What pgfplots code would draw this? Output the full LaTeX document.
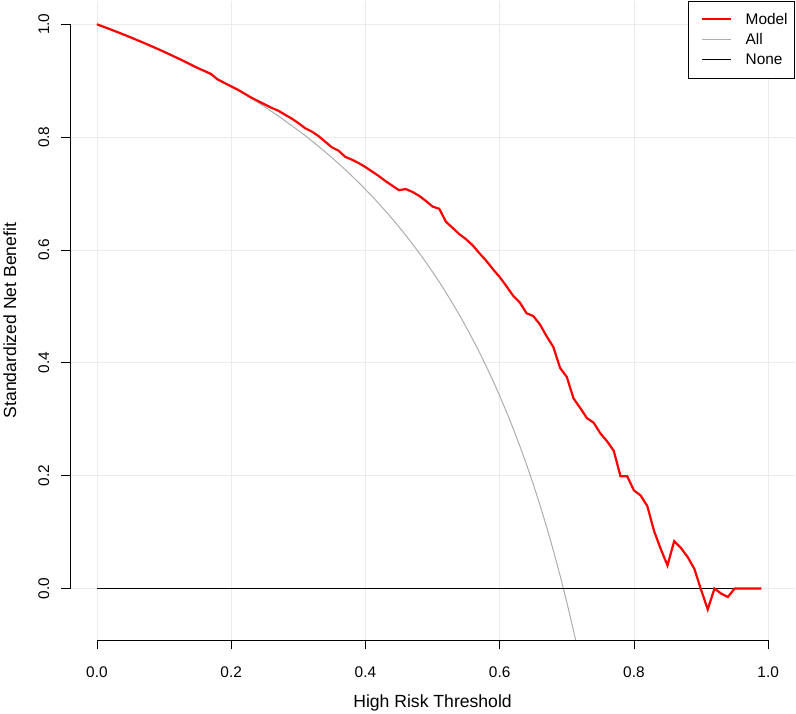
\documentclass[border=0pt]{standalone}
\usepackage{fontspec}
\setmainfont{Liberation Sans}
\usepackage{pgfplots}
\pgfplotsset{compat=1.18}
\definecolor{gridgray}{HTML}{EBEBEB}
\definecolor{allgray}{HTML}{ADADAD}
\definecolor{rred}{HTML}{FF0000}
\begin{document}
\begin{tikzpicture}
\begin{axis}[
  at={(0pt,0pt)}, anchor=south west,
  scale only axis, width=725.2pt, height=640.1pt,
  xmin=-0.04, xmax=1.04, ymin=-0.092, ymax=1.042,
  clip=false,
  axis line style={draw=none},
  xtick={0,0.2,0.4,0.6,0.8,1.0}, ytick={0,0.2,0.4,0.6,0.8,1.0},
  xtick pos=left, ytick pos=left,
  grid=major, grid style={gridgray, line width=0.8pt},
  tick align=outside, major tick length=9pt,
  tick style={black, line width=0.8pt},
  ticklabel style={font=\fontsize{15.4}{18}\selectfont},
  /pgf/number format/.cd, fixed, fixed zerofill, precision=1, assume math mode=true,
  /pgfplots/.cd,
  xticklabel style={anchor=base}, xticklabel shift=28pt,
  yticklabel style={rotate=90, anchor=base}, yticklabel shift=12pt,
  xlabel={High Risk Threshold}, ylabel={Standardized Net Benefit},
  label style={font=\fontsize{17.6}{21}\selectfont},
  xlabel style={at={(axis description cs:0.5,-0.104)}, anchor=base},
  ylabel style={at={(axis description cs:-0.0745,0.5)}, anchor=base},
  legend cell align=left,
  legend image code/.code={\path[draw=none, fill=none] (0pt,-1pt) rectangle (36pt,1pt); \draw[#1] (7pt,0pt) -- (36pt,0pt);},
  legend style={at={(axis description cs:1,1)}, anchor=north east, draw=black, line width=0.8pt,
    font=\fontsize{15.4}{18}\selectfont, inner xsep=7pt, inner ysep=12pt,
    nodes={inner sep=0pt}, column sep=13.7pt, row sep=7.8pt},
]
\addlegendimage{rred, line width=2.2pt}
\addlegendentry{Model}
\addlegendimage{allgray, line width=1pt}
\addlegendentry{All}
\addlegendimage{black, line width=1pt}
\addlegendentry{None}

\addplot[allgray, line width=1pt, forget plot] coordinates {
(0,1.0) (0.02,0.99104) (0.05,0.97690) (0.07,0.96697) (0.10,0.95124) (0.12,0.94016)
(0.15,0.92256) (0.17,0.91012) (0.20,0.89029) (0.22,0.87622) (0.25,0.85372) (0.27,0.83768)
(0.30,0.81192) (0.31,0.80284) (0.32,0.79348) (0.33,0.78385) (0.34,0.77392) (0.35,0.76369)
(0.36,0.75315) (0.37,0.74226) (0.38,0.73103) (0.39,0.71942) (0.40,0.70743) (0.41,0.69503)
(0.42,0.68221) (0.43,0.66894) (0.44,0.65519) (0.45,0.64094) (0.46,0.62617) (0.47,0.61083)
(0.48,0.59491) (0.49,0.57836) (0.50,0.56115) (0.51,0.54323) (0.52,0.52458) (0.53,0.50513)
(0.54,0.48483) (0.55,0.46362) (0.56,0.44146) (0.57,0.41826) (0.58,0.39396) (0.59,0.36848)
(0.60,0.34173) (0.61,0.31360) (0.62,0.28398) (0.63,0.25276) (0.64,0.21982) (0.65,0.18498)
(0.66,0.14810) (0.67,0.10900) (0.68,0.06744) (0.69,0.02319) (0.70,-0.02398) (0.71,-0.07443)
(0.7133,-0.092)
};
\addplot[black, line width=1pt, forget plot] coordinates {(0,0) (0.99,0)};
\addplot[rred, line width=2.2pt, forget plot] coordinates {
(0.00,1.0000) (0.01,0.99557) (0.02,0.99104) (0.03,0.98643) (0.04,0.98171) (0.05,0.97690)
(0.06,0.97199) (0.07,0.96697) (0.08,0.96184) (0.09,0.95660) (0.10,0.95124) (0.11,0.94576)
(0.12,0.94016) (0.13,0.93442) (0.14,0.92856) (0.15,0.92256) (0.16,0.91741) (0.17,0.912)
(0.18,0.902) (0.19,0.896) (0.20,0.890) (0.21,0.884) (0.22,0.877) (0.23,0.870) (0.24,0.864)
(0.25,0.858) (0.26,0.852) (0.27,0.847) (0.28,0.840) (0.29,0.833) (0.30,0.825) (0.31,0.816)
(0.32,0.810) (0.33,0.802) (0.34,0.792) (0.35,0.782) (0.36,0.776) (0.37,0.765) (0.38,0.760)
(0.39,0.754) (0.40,0.747) (0.41,0.739) (0.42,0.731) (0.43,0.722) (0.44,0.714) (0.45,0.706)
(0.46,0.708) (0.47,0.703) (0.48,0.696) (0.49,0.687) (0.50,0.677) (0.51,0.673) (0.52,0.650)
(0.53,0.639) (0.54,0.628) (0.55,0.619) (0.56,0.608) (0.57,0.594) (0.58,0.581) (0.59,0.566)
(0.60,0.552) (0.61,0.536) (0.62,0.519) (0.63,0.507) (0.64,0.488) (0.65,0.483) (0.66,0.468)
(0.67,0.447) (0.68,0.428) (0.69,0.391) (0.70,0.375) (0.71,0.337) (0.72,0.320) (0.73,0.302)
(0.74,0.294) (0.75,0.275) (0.76,0.261) (0.77,0.244) (0.78,0.199) (0.79,0.199) (0.80,0.174)
(0.81,0.165) (0.82,0.146) (0.83,0.102) (0.84,0.070) (0.85,0.041) (0.86,0.084) (0.87,0.072)
(0.88,0.056) (0.89,0.035) (0.90,-0.002) (0.91,-0.037) (0.92,0.000) (0.93,-0.009) (0.94,-0.015)
(0.95,0) (0.96,0) (0.97,0) (0.98,0) (0.99,0)
};
\draw[black, line width=0.8pt] (axis cs:0,-0.092) -- (axis cs:1,-0.092);
\draw[black, line width=0.8pt] (axis cs:-0.04,0) -- (axis cs:-0.04,1);
\end{axis}
\useasboundingbox (-69.8pt,-69.3pt) rectangle (726.2pt,640.7pt);
\end{tikzpicture}
\end{document}
